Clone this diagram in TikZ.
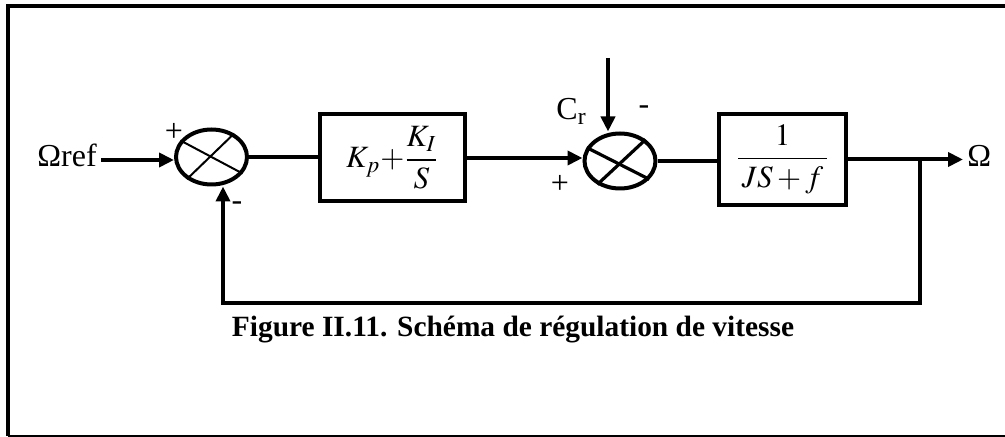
\documentclass[tikz,border=0pt]{standalone}
\usepackage{amsmath}
\usepackage{mathptmx}
\usepackage{fontspec}
\setmainfont{Liberation Serif}
\usetikzlibrary{arrows.meta,positioning,shapes.geometric}
\tikzset{
  flow/.style={-{Triangle[length=7.5pt,width=7pt]}, line width=2pt, draw=black},
  link/.style={line width=2pt, draw=black},
  block/.style={
    draw=black,
    line width=2pt,
    inner sep=0pt,
    font=\fontsize{15.5}{18}\selectfont
  },
  sumnode/.style={
    ellipse,
    draw=black,
    line width=2pt,
    minimum width=35.5pt,
    minimum height=27.5pt,
    inner sep=0pt
  },
  signal/.style={inner sep=2pt, text height=11pt, text depth=4pt, font=\fontsize{16}{18}\selectfont},
  sign/.style={inner sep=0pt, font=\fontsize{16}{18}\selectfont}
}

\begin{document}
\begin{tikzpicture}[x=0.5pt, y=-0.5pt]
  \useasboundingbox (0,0) rectangle (1005,437);
  % frame
  \draw[line width=2pt] (1005,6) -- (8,6) -- (8,436);
  \draw[line width=0.75pt] (8,436) -- (1005,436);

  \node[signal, anchor=west] (ref) at (33,160) {Ωref};
  \node[sumnode] (sum1) at (211.5,157) {};
  \node[block, minimum width=72.5pt, minimum height=43.5pt] (pi) at (392.5,158)
    {$K_{p}{+}\dfrac{K_{I}}{S}$};
  \node[sumnode] (sum2) at (620,161) {};
  \node[block, minimum width=63.5pt, minimum height=45.5pt]
    (plant) at (782.5,159.5) {$\dfrac{1}{\,JS+f\,}$};
  \node[signal, anchor=west] (out) at (963,160) {Ω};

  \draw[line width=1pt] (sum1.152) -- (sum1.-28);
  \draw[line width=1pt] (sum1.46) -- (sum1.222);
  \draw[line width=1.6pt] (sum2.158) -- (sum2.-32);
  \draw[line width=1.6pt] (sum2.40) -- (sum2.226);

  \node[font=\fontsize{16}{18}\selectfont, anchor=base west, inner sep=0pt] (crlabel)
    at (556,120) {C\textsubscript{r}};
  \coordinate (crtop) at (608,58);
  \coordinate (branch) at (920,160);
  \coordinate (fb) at (223,303);

  \node[sign] (plus1) at (174,132) {+};
  \node[sign] (minus1) at (237,206) {-};
  \node[sign] (minus2) at (644,110) {-};
  \node[sign] (plus2) at (560,184) {+};

  \draw[flow] (ref.east) -- (ref.east -| sum1.west);
  \draw[link] (sum1.east) -- (sum1.east -| pi.west);
  \draw[flow] (pi.east) -- (pi.east -| sum2.west);
  \draw[link] (sum2.east) -- (sum2.east -| plant.west);
  \draw[flow] (plant.east) -- (plant.east -| out.west);
  \draw[flow] (crtop) -- (crtop |- sum2.north);
  \draw[flow] (branch) |- (fb) -- (fb |- sum1.south);

  \node[font=\bfseries\fontsize{14.7}{17}\selectfont] (caption) at (513,330)
    {Figure II.11. Schéma de régulation de vitesse};
\end{tikzpicture}
\end{document}
